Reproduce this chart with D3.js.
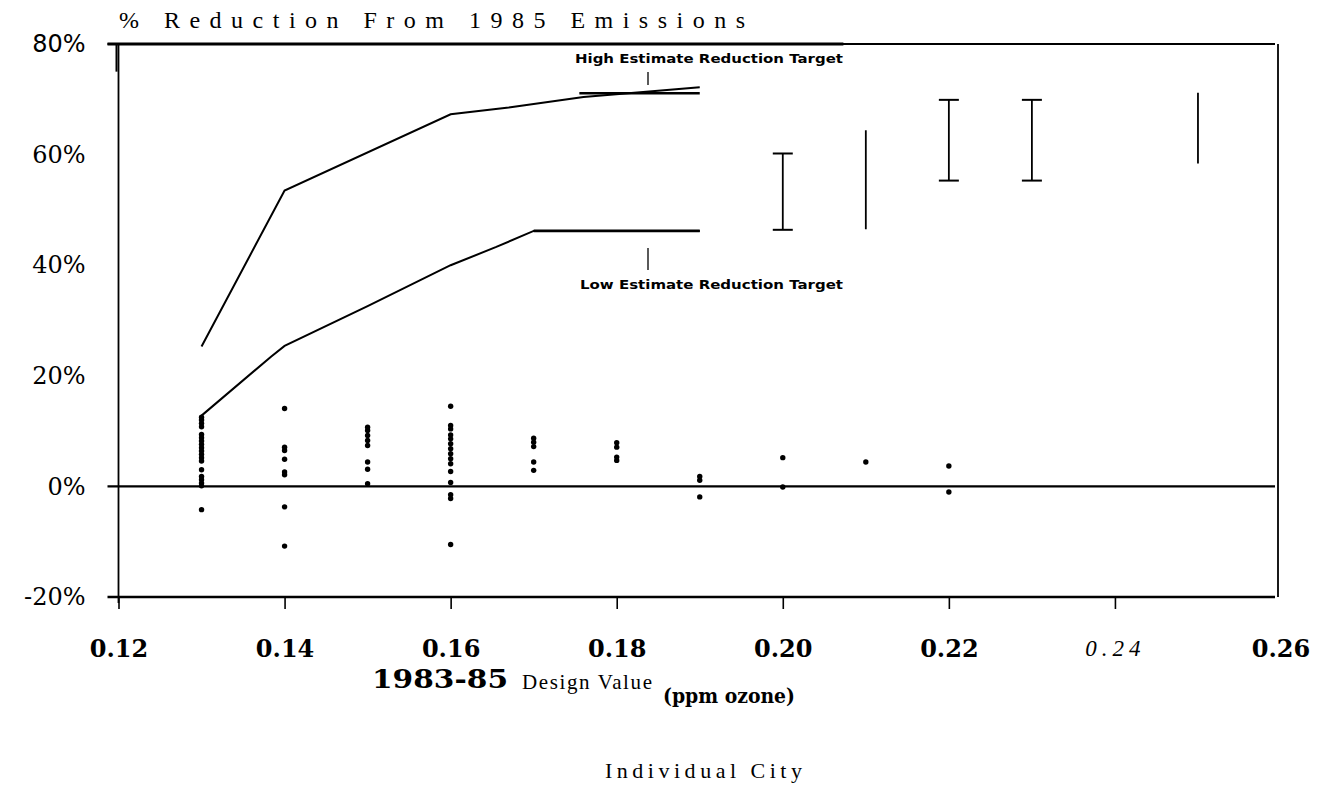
<!DOCTYPE html>
<html><head><meta charset="utf-8">
<script src="https://cdn.jsdelivr.net/npm/d3@7"></script>
<style>html,body{margin:0;padding:0;background:#fff}svg{display:block}</style>
</head><body>
<svg id="chart" width="1320" height="790"></svg>
<script>
// ---- data ----
const xTicks = [0.12, 0.14, 0.16, 0.18, 0.20, 0.22, 0.24, 0.26];
const xTickLabels = ["0.12", "0.14", "0.16", "0.18", "0.20", "0.22", "0.24", "0.26"];
const yTicks = [80, 60, 40, 20, 0, -20];
const yTickLabels = ["80%", "60%", "40%", "20%", "0%", "-20%"];

const highX = [0.13, 0.14, 0.16, 0.167, 0.176, 0.19];
const highY = [25.3, 53.5, 67.3, 68.5, 70.4, 72.2];
const highTargetX = [0.1755, 0.19];
const highTargetY = [71.1, 71.1];

const lowX = [0.13, 0.1384, 0.14, 0.15, 0.16, 0.1655, 0.17, 0.19];
const lowY = [12.8, 23.5, 25.4, 32.6, 40.0, 43.3, 46.2, 46.2];

const barX = [0.20, 0.21, 0.22, 0.23, 0.25];
const barLo = [46.4, 46.5, 55.3, 55.3, 58.4];
const barHi = [60.2, 64.4, 69.9, 69.9, 71.2];
const barCap = [true, false, true, true, false];

const cityX = [0.13, 0.14, 0.15, 0.16, 0.17, 0.18, 0.19, 0.20, 0.21, 0.22];
const cityY = [
  [12.5, 12.0, 11.4, 10.8, 9.4, 8.8, 8.2, 7.6, 7.0, 6.4, 5.8, 5.2, 4.6, 3.0, 1.8, 1.2, 0.6, 0.1, -4.2],
  [14.1, 7.1, 6.5, 4.9, 2.6, 2.1, -3.7, -10.8],
  [10.7, 10.1, 9.2, 8.3, 7.4, 4.4, 3.1, 0.5],
  [14.5, 11.0, 10.4, 9.3, 8.6, 7.7, 6.8, 5.9, 5.0, 4.1, 2.7, 0.7, -1.5, -2.2, -10.5],
  [8.7, 8.0, 7.2, 4.4, 2.9],
  [7.9, 7.1, 5.3, 4.7],
  [1.8, 1.1, -1.9],
  [5.2, -0.1],
  [4.4],
  [3.7, -1.0]
];

const titleText = "% Reduction From 1985 Emissions";
const highLabel = "High Estimate Reduction Target";
const lowLabel = "Low Estimate Reduction Target";
const footText = "Individual City";

// ---- scales ----
const svg = d3.select("#chart");
const x = d3.scaleLinear().domain([0.12, 0.26]).range([118.5, 1281]);
const y = d3.scaleLinear().domain([-20, 80]).range([597, 44]);

const g = svg.append("g");
const ink = "#000";

// frame lines
g.append("line").attr("x1", x(0.12) - 11).attr("x2", x(0.26) - 6).attr("y1", y(80)).attr("y2", y(80))
  .attr("stroke", ink).attr("stroke-width", 1.8);
g.append("line").attr("x1", x(0.12) - 11).attr("x2", x(0.2073)).attr("y1", y(80)).attr("y2", y(80))
  .attr("stroke", ink).attr("stroke-width", 3);
g.append("line").attr("x1", x(0.26) - 3).attr("x2", x(0.26) - 3).attr("y1", y(80)).attr("y2", y(-20))
  .attr("stroke", ink).attr("stroke-width", 1.8);
g.append("line").attr("x1", x(0.12)).attr("x2", x(0.12)).attr("y1", y(80)).attr("y2", y(-20) + 6)
  .attr("stroke", ink).attr("stroke-width", 1.8);
g.append("line").attr("x1", x(0.12) - 2).attr("x2", x(0.12) - 2).attr("y1", y(80)).attr("y2", y(75))
  .attr("stroke", ink).attr("stroke-width", 2);
g.append("line").attr("x1", x(0.12) - 11).attr("x2", x(0.26) - 6).attr("y1", y(-20)).attr("y2", y(-20))
  .attr("stroke", ink).attr("stroke-width", 2.4);
// zero line
g.append("line").attr("x1", x(0.12) - 11).attr("x2", x(0.26) - 6).attr("y1", y(0)).attr("y2", y(0))
  .attr("stroke", ink).attr("stroke-width", 2.4);

// x axis
const xAxis = d3.axisBottom(x).tickValues(xTicks.slice(0, 7)).tickSize(12).tickPadding(31)
  .tickFormat((d, i) => xTickLabels[i]);
const gx = g.append("g").attr("transform", `translate(0,${y(-20)})`).call(xAxis);
gx.select(".domain").remove();
gx.selectAll(".tick line").attr("stroke", ink).attr("stroke-width", 1.6);
gx.selectAll(".tick text").attr("fill", ink)
  .attr("font-family", "'DejaVu Serif', serif").attr("font-size", 24).attr("font-weight", "bold");
// last label (0.26) placed at right border
gx.append("text").attr("x", x(0.26)).attr("y", 43).attr("dy", "0.71em").attr("text-anchor", "middle")
  .attr("fill", ink).attr("font-family", "'DejaVu Serif', serif").attr("font-size", 24).attr("font-weight", "bold")
  .text(xTickLabels[7]);
gx.selectAll(".tick text").filter(d => Math.abs(d - 0.24) < 1e-9)
  .attr("font-family", "'Liberation Serif', serif").attr("font-style", "italic").attr("font-weight", "normal")
  .attr("font-size", 23).attr("letter-spacing", 5);

// y axis labels
const yAxis = d3.axisLeft(y).tickValues(yTicks).tickSize(0).tickPadding(33)
  .tickFormat((d, i) => yTickLabels[i]);
const gy = g.append("g").attr("transform", `translate(${x(0.12)},0)`).call(yAxis);
gy.select(".domain").remove();
gy.selectAll(".tick text").attr("fill", ink)
  .attr("font-family", "'DejaVu Serif', serif").attr("font-size", 24);
gy.selectAll(".tick text").filter(d => d === 80)
  .attr("font-family", "'DejaVu Sans', sans-serif").attr("font-size", 24);

// curves
const line = d3.line().x(d => x(d[0])).y(d => y(d[1]));
g.append("path").datum(highX.map((v, i) => [v, highY[i]])).attr("d", line)
  .attr("fill", "none").attr("stroke", ink).attr("stroke-width", 2);
g.append("path").datum(highTargetX.map((v, i) => [v, highTargetY[i]])).attr("d", line)
  .attr("fill", "none").attr("stroke", ink).attr("stroke-width", 2.6);
g.append("path").datum(lowX.map((v, i) => [v, lowY[i]])).attr("d", line)
  .attr("fill", "none").attr("stroke", ink).attr("stroke-width", 2);
g.append("path").datum([[lowX[6], lowY[6]], [lowX[7], lowY[7]]]).attr("d", line)
  .attr("fill", "none").attr("stroke", ink).attr("stroke-width", 2.6);

// label pointers
g.append("line").attr("x1", 648).attr("x2", 648).attr("y1", 72).attr("y2", 85).attr("stroke", ink).attr("stroke-width", 1.3);
g.append("line").attr("x1", 648).attr("x2", 648).attr("y1", 248).attr("y2", 270).attr("stroke", ink).attr("stroke-width", 1.3);
g.append("text").attr("x", 575).attr("y", 63).attr("textLength", 268).attr("lengthAdjust", "spacingAndGlyphs")
  .attr("font-family", "'DejaVu Sans', sans-serif").attr("font-weight", "bold").attr("font-size", 13)
  .attr("fill", ink).text(highLabel);
g.append("text").attr("x", 580).attr("y", 289).attr("textLength", 263).attr("lengthAdjust", "spacingAndGlyphs")
  .attr("font-family", "'DejaVu Sans', sans-serif").attr("font-weight", "bold").attr("font-size", 13)
  .attr("fill", ink).text(lowLabel);

// range bars
barX.forEach((v, i) => {
  g.append("line").attr("x1", x(v)).attr("x2", x(v)).attr("y1", y(barLo[i])).attr("y2", y(barHi[i]))
    .attr("stroke", ink).attr("stroke-width", 1.8);
  if (barCap[i]) {
    [barLo[i], barHi[i]].forEach(b => {
      g.append("line").attr("x1", x(v) - 10).attr("x2", x(v) + 10).attr("y1", y(b)).attr("y2", y(b))
        .attr("stroke", ink).attr("stroke-width", 2);
    });
  }
});

// city dots
cityX.forEach((v, i) => {
  g.selectAll(null).data(cityY[i]).enter().append("circle")
    .attr("cx", x(v)).attr("cy", d => y(d)).attr("r", 2.7).attr("fill", ink);
});

// titles
g.append("text").attr("x", 119).attr("y", 28).attr("textLength", 626).attr("lengthAdjust", "spacing")
  .attr("font-family", "'Liberation Serif', serif").attr("font-size", 24).attr("fill", ink).text(titleText);

const xt = g.append("text").attr("fill", ink).attr("font-family", "'DejaVu Serif', serif");
xt.append("tspan").attr("x", 372).attr("y", 688).attr("font-weight", "bold").attr("font-size", 26)
  .attr("textLength", 136).attr("lengthAdjust", "spacingAndGlyphs").text("1983-85");
xt.append("tspan").attr("x", 522).attr("y", 689).attr("font-family", "'Liberation Serif', serif")
  .attr("font-size", 21).attr("textLength", 130).attr("lengthAdjust", "spacing").text("Design Value");
xt.append("tspan").attr("x", 663).attr("y", 703).attr("font-weight", "bold").attr("font-size", 21)
  .attr("textLength", 132).attr("lengthAdjust", "spacingAndGlyphs").text("(ppm ozone)");

g.append("text").attr("x", 605).attr("y", 778).attr("textLength", 197).attr("lengthAdjust", "spacing")
  .attr("font-family", "'Liberation Serif', serif").attr("font-size", 22).attr("fill", ink).text(footText);
</script>
</body></html>
